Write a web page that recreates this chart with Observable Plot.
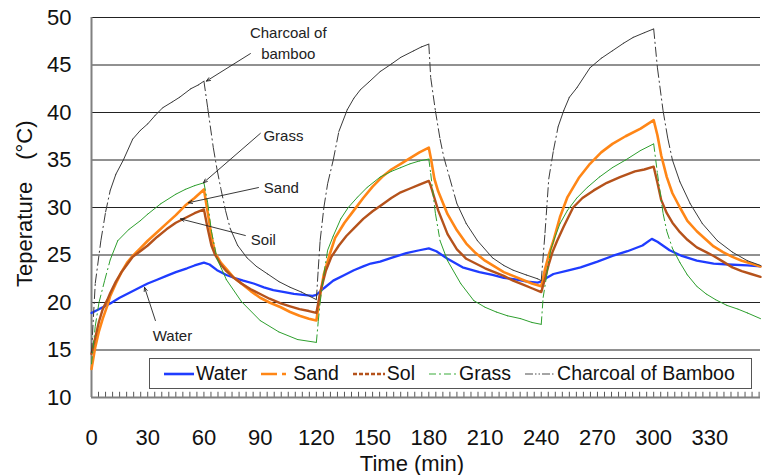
<!DOCTYPE html>
<html>
<head>
<meta charset="utf-8">
<script src="https://cdn.jsdelivr.net/npm/d3@7"></script>
<script src="https://cdn.jsdelivr.net/npm/@observablehq/plot@0.6"></script>
<style>
  body { margin: 0; background: #fff; }
  #wrap { position: relative; width: 763px; height: 475px; font-family: "Liberation Sans", Arial, sans-serif; }
  #legend { position: absolute; left: 149px; top: 358px; width: 603px; height: 31px; box-sizing: border-box;
            border: 1px solid #555; background: #fff; display: flex; align-items: center; padding-left: 14px;
            font-size: 19.5px; color: #111; }
  .item { display: flex; align-items: center; margin-right: 14px; white-space: nowrap; }
  .item svg { margin-right: 2px; }
</style>
</head>
<body>
<div id="wrap"><div id="legend"></div></div>
<script>
// ---- data (time in min, temperature in °C) ----
const water = [[0,18.9],[5,19.4],[10,19.9],[15,20.5],[20,21.0],[26,21.6],[30,22.0],[35,22.4],[40,22.8],[45,23.2],[51,23.6],[55,23.9],[60,24.2],[63,24.0],[67,23.4],[72,22.9],[76,22.6],[81,22.3],[86.5,22.0],[92,21.6],[97,21.3],[103,21.1],[108,20.9],[113,20.8],[118,20.7],[120,20.8],[124,21.5],[129,22.3],[135,22.9],[140,23.4],[145,23.8],[149,24.1],[154,24.3],[160,24.7],[168,25.2],[175,25.5],[180,25.7],[184,25.4],[190,24.6],[198,23.7],[207,23.2],[214,22.9],[220,22.6],[227,22.4],[232.5,22.2],[238,22.1],[240,22.2],[243,22.6],[246.5,23.0],[254,23.35],[261,23.7],[270,24.3],[278,24.9],[286,25.4],[294,26.0],[299,26.7],[302,26.4],[308.5,25.5],[315,24.9],[323,24.4],[332,24.1],[340,24.0],[350,23.9],[357,23.8]];

const sand = [[0,13.0],[2,15.3],[4,17.0],[6,18.3],[8.5,19.7],[10,20.7],[13,22.0],[16,23.2],[19,24.2],[22,24.9],[26,25.7],[30,26.5],[35,27.4],[40,28.3],[45,29.2],[50,30.2],[55,31.0],[60,31.9],[62,29.5],[64,27.0],[66,25.2],[69,24.2],[72.5,23.4],[76,22.6],[80,22.0],[85,21.2],[90,20.5],[95,20.0],[101,19.5],[106,19.0],[111,18.6],[116,18.3],[120,18.1],[122,20.8],[124,23.0],[127,25.0],[130,26.8],[135,28.4],[140,29.7],[145,31.0],[150,32.2],[155,33.2],[160,34.0],[165,34.6],[170,35.2],[175,35.8],[180,36.3],[181,35.3],[183,33.0],[185,31.7],[190,29.3],[195,27.6],[200,26.2],[205,25.2],[210,24.4],[215,23.8],[220,23.2],[225,22.8],[230,22.4],[235,22.0],[240,21.7],[242,23.5],[244,25.0],[246.5,26.5],[250,29.0],[254,31.1],[260,33.1],[266,34.6],[272,35.8],[278,36.7],[285,37.5],[293,38.3],[300,39.2],[302,37.6],[304,35.5],[307,33.2],[310,31.5],[314,30.0],[318,28.6],[323,27.5],[328,26.6],[332,25.9],[337,25.3],[342,24.8],[347,24.4],[352,24.1],[357,23.8]];

const soil = [[0,14.6],[2,16.3],[4,18.0],[6,19.3],[8.5,20.3],[10,21.0],[13,22.2],[16,23.2],[19,24.0],[22,24.8],[26,25.4],[30,26.0],[35,26.9],[40,27.7],[45,28.4],[50,28.9],[55,29.4],[60,29.8],[62,27.8],[64,26.0],[66,25.0],[69,24.0],[72,23.3],[76,22.6],[80,22.0],[85,21.4],[90,20.9],[95,20.4],[101,19.9],[106,19.6],[111,19.3],[116,19.1],[120,18.9],[122,21.0],[125,23.3],[128,24.8],[132,26.0],[136,27.0],[140,27.8],[145,28.8],[150,29.6],[155,30.3],[160,31.0],[165,31.6],[170,32.0],[175,32.4],[180,32.8],[181,32.3],[183,31.0],[185,29.7],[190,27.2],[195,25.6],[200,24.6],[205,24.1],[210,23.6],[215,23.2],[220,22.8],[225,22.3],[230,21.9],[235,21.5],[240,21.1],[242,22.5],[244,24.0],[246,25.3],[248.5,26.5],[252,28.0],[257,30.0],[262,31.0],[268,31.8],[275,32.6],[282,33.2],[290,33.8],[295,34.0],[300,34.3],[302,32.6],[304,30.8],[307,29.4],[310,28.4],[314,27.4],[318,26.6],[323,25.8],[328,25.3],[332,24.9],[337,24.3],[342,23.7],[347,23.3],[352,23.0],[357,22.7]];

const grass = [[0,13.5],[2,17.5],[4,20.0],[7,22.3],[10,24.5],[14,26.5],[20,27.7],[26,28.6],[30,29.3],[37,30.4],[45,31.4],[50,31.9],[55,32.3],[60,32.6],[62,30.5],[64,27.5],[67,24.6],[72,22.4],[80,20.1],[90,18.1],[100,16.9],[110,16.1],[120,15.8],[121,18.0],[122,20.0],[124,23.0],[126,25.5],[129,27.0],[133,28.8],[137,30.0],[142,31.1],[147,32.1],[154,33.2],[160,33.8],[165,34.2],[170,34.6],[175,34.9],[180,35.1],[181,33.6],[183.5,29.4],[186,26.5],[190,24.4],[197,22.0],[204,20.2],[210,19.5],[216,19.0],[222,18.6],[229,18.3],[235,17.9],[240,17.7],[241,20.5],[243,23.0],[245,25.5],[247,26.7],[250,28.3],[254,29.7],[259,31.0],[264.5,32.1],[271,33.2],[278,34.2],[285,35.0],[293,36.0],[300,36.7],[302,33.6],[305,29.4],[307,27.5],[310,25.7],[314,24.2],[318,22.9],[323,21.7],[328,20.9],[333,20.3],[339,19.7],[345,19.3],[350,18.9],[357,18.3]];

const charcoal = [[0,14.7],[2,22.0],[5,26.5],[7.5,29.5],[10,31.8],[13,33.5],[17,35.0],[22,37.2],[26,38.1],[30,38.8],[34,39.7],[38,40.5],[43,41.1],[47,41.6],[53,42.5],[57,42.9],[60,43.3],[62,40.5],[65,36.3],[67,34.0],[69,32.0],[71.5,29.7],[74,27.8],[78,26.0],[83,24.7],[88,23.8],[94,23.0],[100,22.2],[106,21.6],[112,21.1],[117,20.6],[120,20.3],[121,23.5],[122,26.5],[124,30.0],[126,32.5],[129,35.0],[132,38.0],[136.5,40.3],[140,41.5],[143.5,42.4],[148,43.2],[154,44.3],[160,45.1],[165,45.8],[172,46.5],[176,46.9],[180,47.2],[181,43.7],[183.5,40.2],[186,37.2],[188,35.3],[191,33.2],[195,30.4],[200,28.3],[206,26.5],[214,24.7],[220,23.9],[225,23.4],[232,22.9],[238,22.5],[240,22.3],[242,27.3],[244,33.0],[246.5,36.0],[249,38.5],[252,40.2],[255,41.6],[259,42.6],[266,44.7],[272,45.7],[278,46.5],[284,47.3],[289,47.9],[295,48.4],[300,48.8],[302,44.7],[305,40.2],[307.5,37.3],[310,35.0],[314,32.7],[319.5,30.4],[326,28.3],[334,26.5],[342,25.3],[350,24.4],[357,23.9]];

const xTicks = [0, 30, 60, 90, 120, 150, 180, 210, 240, 270, 300, 330];
const yTicks = [10, 15, 20, 25, 30, 35, 40, 45, 50];
const minorTicks = d3.range(0, 357, 3.75);

const seriesNames = ["Water", "Sand", "Sol", "Grass", "Charcoal of Bamboo"];

// annotation labels and arrows (data coordinates)
const noteLabels = [
  {text: "Charcoal of", t: 105, v: 48.3},
  {text: "bamboo", t: 105, v: 46.1},
  {text: "Grass", t: 102.4, v: 37.55},
  {text: "Sand", t: 101.3, v: 32.0},
  {text: "Soil", t: 91.7, v: 26.6},
  {text: "Water", t: 43.2, v: 16.5}
];
const noteArrows = [
  {t1: 84.8, v1: 46.2, t2: 61.3, v2: 43.3},
  {t1: 90.1, v1: 37.8, t2: 59.7, v2: 32.6},
  {t1: 89.1, v1: 32.1, t2: 51.7, v2: 30.5},
  {t1: 82.1, v1: 27.05, t2: 47.5, v2: 28.8},
  {t1: 34.1, v1: 18.1, t2: 28.3, v2: 21.6}
];

// ---- styles ----
const styles = {
  "Water": {stroke: "#1f3cff", width: 2.3, dash: null},
  "Sand": {stroke: "#ff8616", width: 2.6, dash: "16,5,4,5"},
  "Sol": {stroke: "#b5521b", width: 2.4, dash: "4,2"},
  "Grass": {stroke: "#2e9f2e", width: 1, dash: "7,3,2,3"},
  "Charcoal of Bamboo": {stroke: "#3a3a3a", width: 1, dash: "8,2,1.5,2,1.5,2"}
};

const toRows = arr => arr.map(([t, v]) => ({t, v}));
function segments(arr) {
  const out = [];
  for (let i = 1; i < arr.length; i++) {
    const [t1, v1] = arr[i - 1], [t2, v2] = arr[i];
    out.push({t1, v1, t2, v2, steep: Math.abs((v2 - v1) / (t2 - t1)) > 0.6});
  }
  return out;
}
// solid where the curve is gentle, dashed where it is steep (dash restarts per segment)
function dashedSeries(arr, st, pattern) {
  const s = segments(arr);
  return [
    Plot.link(s.filter(d => !d.steep), {x1: "t1", y1: "v1", x2: "t2", y2: "v2",
      stroke: st.stroke, strokeWidth: st.width, strokeLinecap: "round"}),
    Plot.link(s.filter(d => d.steep), {x1: "t1", y1: "v1", x2: "t2", y2: "v2",
      stroke: st.stroke, strokeWidth: st.width, strokeDasharray: pattern})
  ];
}

const chart = Plot.plot({
  width: 763,
  height: 475,
  marginLeft: 91,
  marginRight: 3,
  marginTop: 17,
  marginBottom: 78,
  style: {fontFamily: '"Liberation Sans", Arial, sans-serif', fontSize: "22px", color: "#111", background: "#fff", overflow: "visible"},
  x: {domain: [0, 357]},
  y: {domain: [10, 50]},
  marks: [
    Plot.ruleY(yTicks.filter(d => d > 10), {stroke: "#222", strokeWidth: 1}),
    Plot.ruleX(minorTicks, {y1: 10, y2: 10.55, stroke: "#555", strokeWidth: 1}),
    Plot.ruleX([0], {stroke: "#808080", strokeWidth: 2}),
    Plot.ruleY([10], {stroke: "#808080", strokeWidth: 2}),
    Plot.axisX({ticks: xTicks, tickSize: 0, tickPadding: 32, label: null, tickFormat: d => String(d)}),
    Plot.axisY({ticks: yTicks, tickSize: 0, tickPadding: 20, label: null, tickFormat: d => String(d)}),
    Plot.text(["Time (min)"], {frameAnchor: "bottom", textAnchor: "middle", lineAnchor: "middle", dx: -14, dy: 66, fontSize: 22, fill: "#111"}),
    Plot.text(["Teperature\u3000(°C)"], {x: () => -35.7, y: () => 30.4, textAnchor: "middle", lineAnchor: "middle", rotate: -90, fontSize: 22, fill: "#111", clip: false}),
    // series
    Plot.line(toRows(water), {x: "t", y: "v", stroke: styles["Water"].stroke, strokeWidth: styles["Water"].width}),
    Plot.line(toRows(sand), {x: "t", y: "v", stroke: styles["Sand"].stroke, strokeWidth: styles["Sand"].width}),
    Plot.line(toRows(soil), {x: "t", y: "v", stroke: styles["Sol"].stroke, strokeWidth: styles["Sol"].width}),
    ...dashedSeries(grass, styles["Grass"], "8,3,2,3"),
    ...dashedSeries(charcoal, styles["Charcoal of Bamboo"], "10,3,2,3"),
    // annotations
    Plot.arrow(noteArrows, {x1: "t1", y1: "v1", x2: "t2", y2: "v2", stroke: "#222", strokeWidth: 0.9, headLength: 7, headAngle: 45}),
    Plot.text(noteLabels, {x: "t", y: "v", text: "text", fontSize: 15, fill: "#222"})
  ]
});

const wrap = document.getElementById("wrap");
wrap.insertBefore(chart, wrap.firstChild);

// legend
const legend = document.getElementById("legend");
const swW = {"Water": 30, "Sand": 30, "Sol": 32, "Grass": 28, "Charcoal of Bamboo": 30};
for (const name of seriesNames) {
  const st = styles[name];
  const item = document.createElement("div");
  item.className = "item";
  const w = swW[name];
  const lw = name === "Grass" || name === "Charcoal of Bamboo" ? 1.6 : 2.6;
  const col = name === "Grass" ? "#7cc87c" : name === "Charcoal of Bamboo" ? "#888" : st.stroke;
  item.innerHTML = `<svg width="${w}" height="10"><line x1="0" y1="5" x2="${w}" y2="5" stroke="${col}" stroke-width="${lw}" ${st.dash ? `stroke-dasharray="${st.dash}"` : ""}/></svg><span>${name}</span>`;
  legend.appendChild(item);
}
</script>
</body>
</html>
